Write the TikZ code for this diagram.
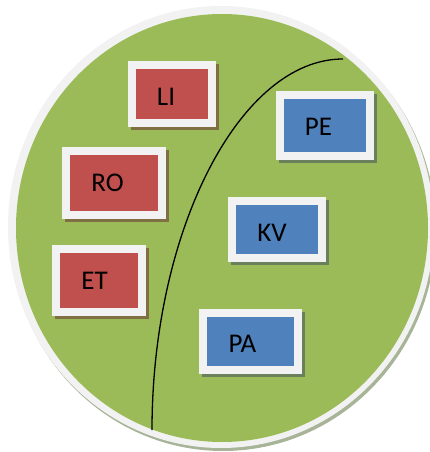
\documentclass[tikz,border=0pt]{standalone}
\usepackage{fontspec}
\setmainfont{Carlito}
\definecolor{ringwhite}{HTML}{F2F2F2}
\definecolor{leafgreen}{HTML}{9BBB59}
\definecolor{ringshadow}{HTML}{A7B497}
\definecolor{boxred}{HTML}{C0504D}
\definecolor{boxblue}{HTML}{4F81BD}
\definecolor{redshadow}{HTML}{7F6F42}
\definecolor{blueshadow}{HTML}{6A7F5C}
\tikzset{
  tile/.style={rectangle, inner sep=0pt, fill=#1, draw=ringwhite, line width=8pt},
  tileshadow/.style={preaction={draw=#1, fill=#1, line width=8pt,
      transform canvas={shift={(3pt,-3pt)}}}},
  redtile/.style={tile=boxred, tileshadow=redshadow},
  bluetile/.style={tile=boxblue, tileshadow=blueshadow},
  lbl/.style={inner sep=0pt, font=\fontsize{27}{30}\selectfont, text=black},
  divider/.style={draw=black, line width=1.3pt}
}
\begin{document}
\begin{tikzpicture}[x=1pt,y=-1pt]
\useasboundingbox (0,0) rectangle (430,452);
% disc
\fill[ringshadow] (223,230) ellipse [x radius=213, y radius=221];
\fill[ringwhite] (221,227) ellipse [x radius=213, y radius=221];
\fill[leafgreen] (222,228) ellipse [x radius=206, y radius=214];
% tiles
\node[redtile, minimum width=80pt, minimum height=58pt] (LI) at (172,94) {};
\node[redtile, minimum width=96pt, minimum height=64pt] (RO) at (114,183) {};
\node[redtile, minimum width=86pt, minimum height=63pt] (ET) at (99,280.5) {};
\node[bluetile, minimum width=90pt, minimum height=61pt] (PE) at (325,125.5) {};
\node[bluetile, minimum width=90pt, minimum height=57pt] (KV) at (277,229.5) {};
\node[bluetile, minimum width=95pt, minimum height=57pt] (PA) at (250.5,341.5) {};
% labels
\node[lbl] (tLI) at (166,97) {LI};
\node[lbl] (tRO) at (107.5,183) {RO};
\node[lbl] (tET) at (94.5,281) {ET};
\node[lbl] (tPE) at (318.5,127) {PE};
\node[lbl] (tKV) at (272,232.5) {KV};
\node[lbl] (tPA) at (242.5,344) {PA};
% dividing curve
\coordinate (cb) at (152,430);
\coordinate (ct) at (343,59);
\draw[divider] (cb) .. controls (152,230) and (240,59) .. (ct);
\end{tikzpicture}
\end{document}
